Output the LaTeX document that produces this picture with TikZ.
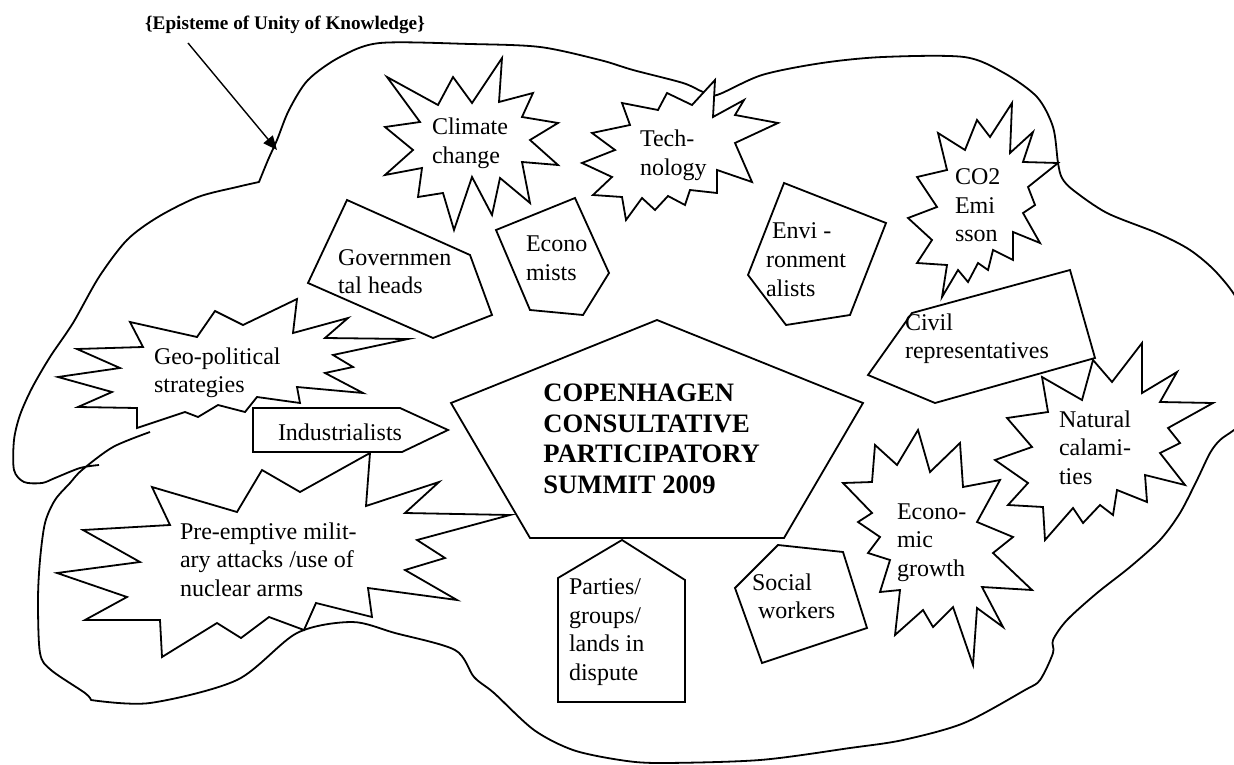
\documentclass[tikz,border=0pt]{standalone}
\usepackage{fontspec}
\setmainfont{Liberation Serif}
\usetikzlibrary{arrows.meta}
\tikzset{
  outline/.style={draw, line width=0.9pt, line join=round},
  blot/.style={draw, line width=0.9pt, fill=white, line join=miter, miter limit=20},
  lbl/.style={font=\fontsize{12}{14.25}\selectfont, align=left, anchor=base west, inner sep=0pt, outer sep=0pt},
  boldlbl/.style={font=\bfseries\fontsize{13.3}{15.2}\selectfont, align=left, anchor=base west, inner sep=0pt},
  titlelbl/.style={font=\bfseries\fontsize{9.6}{11}\selectfont, inner sep=0pt},
  pointer/.style={line width=0.7pt, -{Triangle[length=7pt,width=6pt]}}
}
\begin{document}
\begin{tikzpicture}[x=0.5pt,y=-0.5pt]
\useasboundingbox (0,0) rectangle (1234,764);
\begin{scope}
\clip (0,0) rectangle (1234,764);
% blob outline
\draw[outline] plot[smooth,tension=0.5] coordinates {(99,465) (80,468) (55,478) (42,483) (24,482) (14,470) (14,440) (20,415) (32,388) (50,357) (73,323) (99,277) (127,240) (158,217) (198,197) (237,187) (259,182)}
 -- plot[smooth,tension=0.5] coordinates {(259,182) (268,160) (277,140) (289,110) (308,80) (340,57) (380,43) (470,44) (540,47) (600,60) (633,70) (683,83) (703,92) (717,95) (762,75) (822,63) (883,57) (964,57) (1004,73) (1037,97) (1053,127) (1058,163) (1062,178) (1073,190) (1107,213) (1157,233) (1190,250) (1217,273) (1240,305) (1255,360) (1245,420) (1234,430) (1220,440) (1210,453) (1197,480) (1180,513) (1160,540) (1130,567) (1097,593) (1067,620) (1053,640) (1053,653) (1040,680) (1025,690) (964,723) (903,740) (850,748) (760,760) (660,763) (620,760) (573,750) (534,730) (494,693) (474,677) (455,650) (395,633) (352,622) (297,633) (237,680) (150,703) (91,700)}
 -- plot[smooth,tension=0.5] coordinates {(91,700) (85,693) (51,670) (40,653) (38,600) (40,560) (45,523) (55,500) (70,483) (82,470) (113,447) (150,432)};
\end{scope}

% title and arrow
\node[titlelbl] (title) at (285,25) {\{Episteme of Unity of Knowledge\}};
\coordinate (arrowfrom) at (188,43);
\coordinate (arrowto) at (277,150);
\draw[pointer] (arrowfrom) -- (arrowto);

% Climate change star
\draw[blot] (387,77) -- (438,105) -- (453,77) -- (472,103) -- (502,58) -- (499,102) -- (533,93) -- (522,117) -- (558,123) -- (530,140) -- (558,165) -- (522,162) -- (530,203) -- (500,178) -- (492,215) -- (472,177) -- (454,230) -- (443,193) -- (418,197) -- (422,168) -- (385,175) -- (413,150) -- (385,127) -- (420,122) -- cycle;
% Technology star
\draw[blot] (715,80) -- (713,117) -- (744,100) -- (735,115) -- (778,123) -- (735,143) -- (752,182) -- (717,170) -- (717,193) -- (690,190) -- (685,205) -- (668,196) -- (655,210) -- (642,198) -- (626,220) -- (622,197) -- (593,195) -- (612,177) -- (582,163) -- (615,150) -- (592,133) -- (630,125) -- (622,103) -- (658,110) -- (667,93) -- (692,105) -- cycle;
% CO2 star
\draw[blot] (1012,103) -- (1010,153) -- (1033,132) -- (1023,162) -- (1058,163) -- (1028,187) -- (1035,205) -- (1023,213) -- (1040,243) -- (1013,232) -- (1013,260) -- (993,250) -- (988,270) -- (978,263) -- (968,282) -- (958,270) -- (942,297) -- (947,265) -- (917,263) -- (932,240) -- (908,218) -- (937,207) -- (917,177) -- (947,170) -- (938,133) -- (965,150) -- (977,120) -- (990,137) -- cycle;
% Geo-political star
\draw[blot] (130,322) -- (197,337) -- (215,311) -- (243,325) -- (297,299) -- (293,333) -- (348,318) -- (325,338) -- (408,339) -- (333,355) -- (353,367) -- (325,373) -- (363,393) -- (297,387) -- (300,403) -- (257,397) -- (245,412) -- (218,405) -- (198,417) -- (185,412) -- (137,428) -- (137,408) -- (78,407) -- (112,392) -- (58,377) -- (120,368) -- (77,349) -- (143,347) -- cycle;
% Pre-emptive star
\draw[blot] (152,487) -- (237,512) -- (262,470) -- (300,492) -- (370,453) -- (366,506) -- (439,482) -- (405,513) -- (510,515) -- (417,540) -- (445,558) -- (405,570) -- (457,600) -- (368,588) -- (372,617) -- (316,603) -- (304,630) -- (269,617) -- (241,638) -- (217,623) -- (162,657) -- (160,620) -- (85,620) -- (127,597) -- (57,573) -- (140,562) -- (83,530) -- (170,525) -- cycle;
% Economic growth star
\draw[blot] (918,430) -- (930,472) -- (960,443) -- (963,487) -- (1000,480) -- (977,522) -- (1013,537) -- (993,553) -- (1032,590) -- (982,587) -- (1003,627) -- (977,608) -- (973,665) -- (953,607) -- (933,627) -- (923,610) -- (895,635) -- (900,590) -- (880,592) -- (890,560) -- (868,553) -- (880,537) -- (858,522) -- (872,513) -- (843,483) -- (872,482) -- (875,445) -- (897,465) -- cycle;
% Civil representatives box
\draw[blot] (1070,270) -- (1095,358) -- (935,403) -- (868,375) -- (912,313) -- cycle;
% Natural calamities star
\draw[blot] (1093,360) -- (1112,382) -- (1142,343) -- (1142,393) -- (1177,372) -- (1160,402) -- (1213,403) -- (1168,428) -- (1180,443) -- (1160,453) -- (1185,485) -- (1145,475) -- (1147,502) -- (1117,490) -- (1113,515) -- (1100,505) -- (1083,523) -- (1073,508) -- (1045,540) -- (1043,507) -- (1008,505) -- (1028,483) -- (995,460) -- (1032,447) -- (1007,418) -- (1048,412) -- (1042,377) -- (1082,400) -- cycle;
% pentagons
\draw[blot] (347,200) -- (470,255) -- (492,315) -- (433,338) -- (308,283) -- cycle;
\draw[blot] (575,198) -- (609,273) -- (583,315) -- (530,310) -- (496,230) -- cycle;
\draw[blot] (784,183) -- (886,223) -- (850,315) -- (786,325) -- (748,275) -- cycle;
\draw[blot] (657,320) -- (863,403) -- (784,538) -- (530,538) -- (451,403) -- cycle;
\draw[blot] (622,540) -- (685,580) -- (685,702) -- (558,702) -- (558,578) -- cycle;
\draw[blot] (778,545) -- (843,552) -- (867,628) -- (762,663) -- (735,588) -- cycle;
\draw[blot] (253,408) -- (400,408) -- (448,430) -- (402,452) -- (253,452) -- cycle;

% labels (base anchor = baseline of the last line)
\node[lbl] (climate) at (432,163.5) {Climate\\change};
\node[lbl] (tech) at (640,175.5) {Tech-\\nology};
\node[lbl] (co2) at (955,242) {CO2\\Emi\\sson};
\node[lbl] (gov) at (338,293.5) {Governmen\\tal heads};
\node[lbl] (econ) at (526,280.5) {Econo\\mists};
\node[lbl] (env) at (766,296) {\ Envi -\\ronment\\alists};
\node[lbl] (civil) at (905,358.5) {Civil\\representatives};
\node[lbl] (geo) at (154,392.5) {Geo-political\\strategies};
\node[lbl, anchor=center] (ind) at (340,432) {Industrialists};
\node[boldlbl] (ccps) at (543,493) {COPENHAGEN\\CONSULTATIVE\\PARTICIPATORY\\SUMMIT 2009};
\node[lbl] (pre) at (180,596) {Pre-emptive milit-\\ary attacks /use of\\nuclear arms};
\node[lbl] (parties) at (569,680) {Parties/\\groups/\\lands in\\dispute};
\node[lbl] (social) at (752,618.5) {Social\\\ workers};
\node[lbl] (egrowth) at (897,576) {Econo-\\mic\\growth};
\node[lbl] (natural) at (1059,484) {Natural\\calami-\\ties};
\end{tikzpicture}
\end{document}
